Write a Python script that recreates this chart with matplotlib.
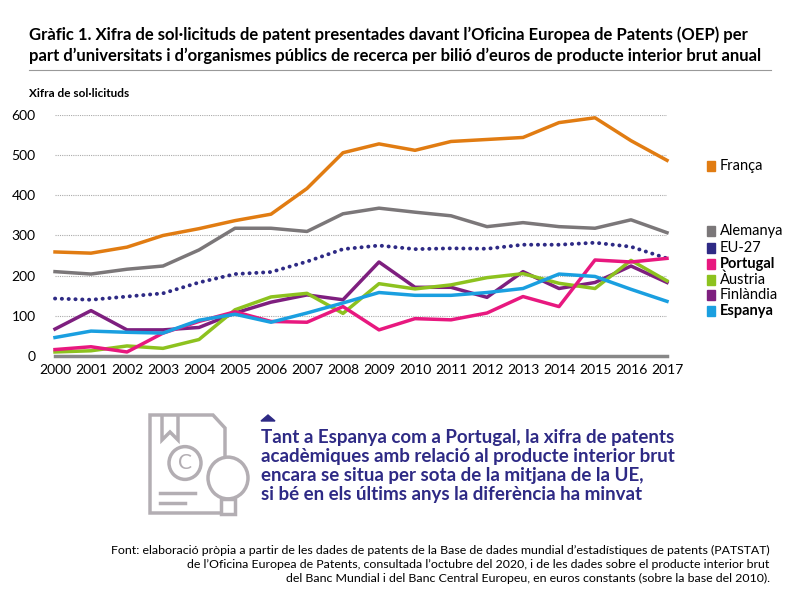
import matplotlib.pyplot as plt
import matplotlib.patches as mpatches
import numpy as np

plt.rcParams['font.family'] = ['Lato', 'DejaVu Sans']

years = list(range(2000, 2018))
franca = [259, 256, 271, 300, 317, 337, 353, 417, 506, 528, 512, 534, 539, 544, 581, 593, 536, 487]
alemanya = [210, 204, 216, 224, 264, 318, 318, 310, 354, 368, 358, 349, 322, 332, 322, 318, 339, 307]
eu27 = [143, 140, 148, 156, 183, 204, 209, 235, 266, 275, 266, 268, 267, 277, 277, 282, 272, 243]
portugal = [16, 23, 10, 57, 86, 110, 86, 84, 123, 65, 93, 90, 107, 148, 123, 239, 234, 243]
austria = [10, 13, 25, 19, 41, 115, 147, 156, 106, 180, 167, 177, 195, 205, 181, 168, 238, 187]
finlandia = [67, 113, 65, 65, 71, 107, 134, 152, 140, 234, 171, 171, 146, 210, 168, 183, 224, 183]
espanya = [46, 62, 59, 57, 89, 104, 84, 107, 132, 158, 151, 151, 158, 168, 204, 198, 166, 136]

c_fr = '#e17c12'
c_de = '#7b7779'
c_eu = '#2e2a85'
c_pt = '#e8187f'
c_at = '#8dc21f'
c_fi = '#7e1f7f'
c_es = '#1a9fe0'

fig = plt.figure(figsize=(8, 5.96), dpi=100)
ax = fig.add_axes([0.06875, 0.4027, 0.765, 0.4044])

ax.plot(years, franca, color=c_fr, lw=2.5)
ax.plot(years, alemanya, color=c_de, lw=2.5)
ax.plot(years, eu27, color=c_eu, lw=2.8, ls=(0, (0.05, 1.7)), dash_capstyle='round')
ax.plot(years, finlandia, color=c_fi, lw=2.5)
ax.plot(years, austria, color=c_at, lw=2.5)
ax.plot(years, portugal, color=c_pt, lw=2.5)
ax.plot(years, espanya, color=c_es, lw=2.5)

ax.set_xlim(2000, 2017)
ax.set_ylim(0, 600)
ax.set_yticks(range(0, 700, 100))
ax.set_xticks(years)
ax.tick_params(length=0, labelsize=10, pad=6)
ax.tick_params(axis='y', pad=14)
for s in ax.spines.values():
    s.set_visible(False)
ax.grid(axis='y', color='#aaaaaa', ls=(0, (1, 1)), lw=0.8)
ax.axhline(0, color='#888888', lw=2.5)
for ln in ax.lines:
    ln.set_clip_on(False)

# legend
leg = [('França', c_fr, 166, False), ('Alemanya', c_de, 231, False), ('EU-27', c_eu, 248, False),
       ('Portugal', c_pt, 264, True), ('Àustria', c_at, 280, False), ('Finlàndia', c_fi, 295, False),
       ('Espanya', c_es, 311, True)]
for name, col, ypx, bold in leg:
    y = 1 - ypx / 596
    fig.patches.append(mpatches.Rectangle((707 / 800, y - 0.0085), 0.0095, 0.017, color=col,
                                          transform=fig.transFigure))
    fig.text(720 / 800, y, name, va='center', fontsize=10.5, fontweight='bold' if bold else 'normal')

fig.text(0.036, 0.955, "Gràfic 1. Xifra de sol·licituds de patent presentades davant l’Oficina Europea de Patents (OEP) per\n"
         "part d’universitats i d’organismes públics de recerca per bilió d’euros de producte interior brut anual",
         fontsize=12, fontweight='bold', va='top', linespacing=1.3)
fig.add_artist(plt.Line2D([0.036, 0.964], [0.882, 0.882], color='#999999', lw=0.8))
fig.text(0.036, 0.843, 'Xifra de sol·licituds', fontsize=8.5, fontweight='bold', va='center')

# icon
icol = '#b3aeb3'
doc = mpatches.Polygon([(150/800, 1-415/596), (213/800, 1-415/596), (225/800, 1-428/596),
                        (225/800, 1-513/596), (150/800, 1-513/596)], closed=True, fill=False,
                       ec=icol, lw=2.5, transform=fig.transFigure)
fig.patches.append(doc)
fig.patches.append(mpatches.Polygon([(162/800, 1-415/596), (162/800, 1-440/596), (170/800, 1-432/596),
                                     (178/800, 1-440/596), (178/800, 1-415/596)], closed=False, fill=False,
                                    ec=icol, lw=2.5, transform=fig.transFigure))
fig.patches.append(mpatches.Ellipse((185/800, 1-463/596), 0.04, 0.055, fill=False, ec=icol, lw=2.5,
                                    transform=fig.transFigure))
fig.text(185/800, 1-463/596, 'C', fontsize=15, color=icol, ha='center', va='center')
fig.add_artist(plt.Line2D([160/800, 195/800], [1-493/596, 1-493/596], color=icol, lw=2.5))
fig.add_artist(plt.Line2D([160/800, 185/800], [1-503/596, 1-503/596], color=icol, lw=2.5))
fig.patches.append(mpatches.Ellipse((228/800, 1-478/596), 0.05, 0.07, fc='white', ec=icol, lw=2.5,
                                    transform=fig.transFigure))
fig.patches.append(mpatches.Rectangle((221/800, 1-514/596), 0.018, 0.025, fc='white', ec=icol, lw=2.5,
                                      transform=fig.transFigure))
fig.patches.append(mpatches.Polygon([(261/800, 1-421/596), (275/800, 1-421/596), (268/800, 1-415/596)],
                                    color=c_eu, transform=fig.transFigure))

fig.text(261/800, 1-429/596, "Tant a Espanya com a Portugal, la xifra de patents\n"
         "acadèmiques amb relació al producte interior brut\n"
         "encara se situa per sota de la mitjana de la UE,\n"
         "si bé en els últims anys la diferència ha minvat",
         fontsize=13.5, fontweight='bold', color=c_eu, va='top', linespacing=1.15)

fig.text(0.962, 1-545/596, "Font: elaboració pròpia a partir de les dades de patents de la Base de dades mundial d’estadístiques de patents (PATSTAT)\n"
         "de l’Oficina Europea de Patents, consultada l’octubre del 2020, i de les dades sobre el producte interior brut\n"
         "del Banc Mundial i del Banc Central Europeu, en euros constants (sobre la base del 2010).",
         fontsize=8.9, ha='right', va='top', linespacing=1.3)

fig.savefig('out.png', dpi=100)
